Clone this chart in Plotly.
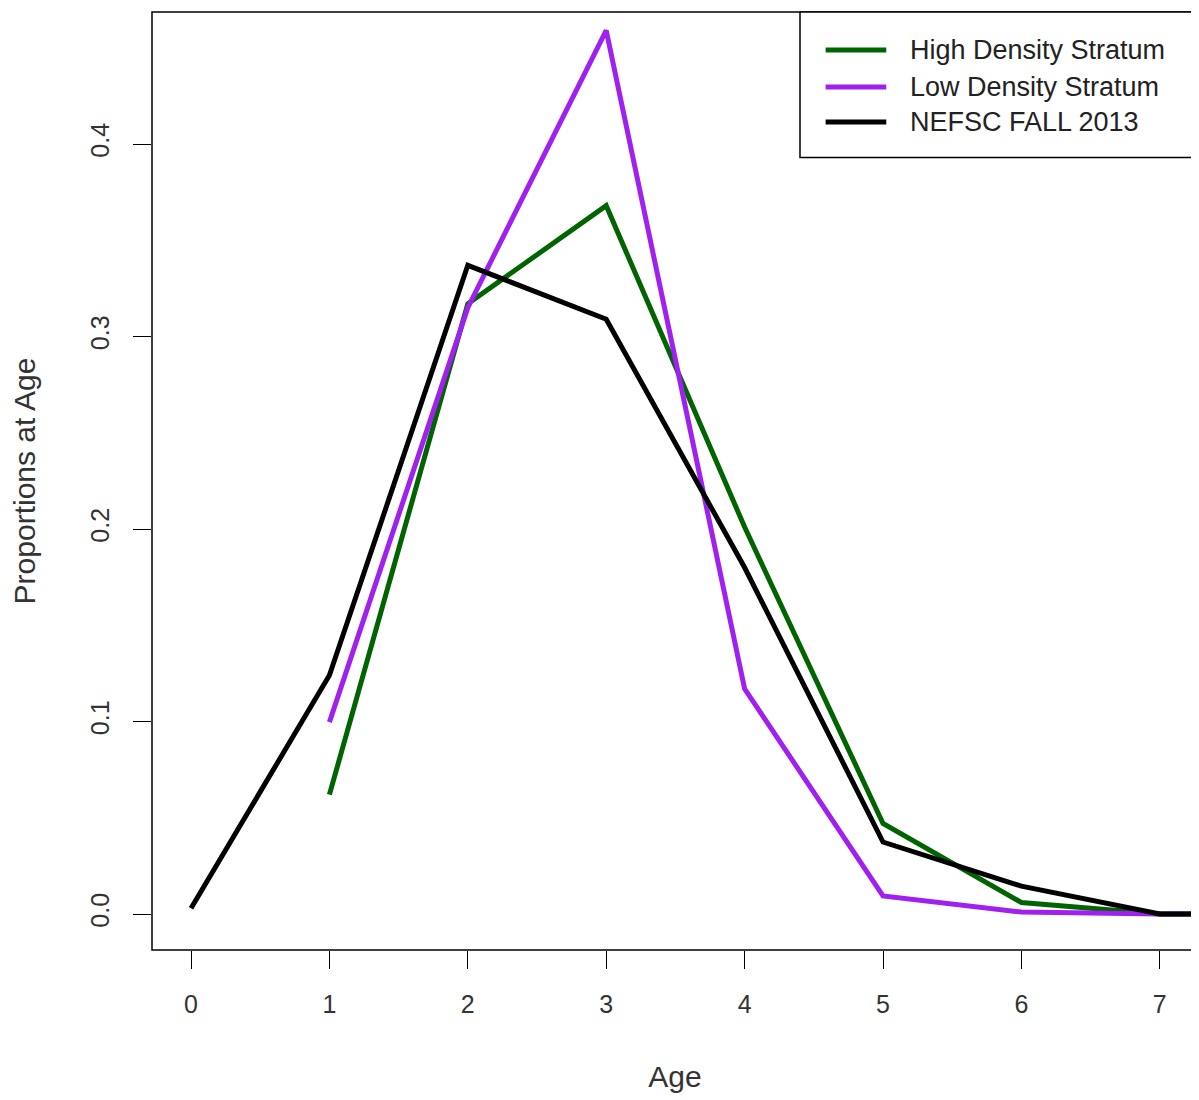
import plotly.graph_objects as go

ages = [0, 1, 2, 3, 4, 5, 6, 7, 8]
high_ages = [1, 2, 3, 4, 5, 6, 7, 8]
high_density = [0.062, 0.317, 0.368, 0.201, 0.047, 0.006, 0.0, 0.0]
low_ages = [1, 2, 3, 4, 5, 6, 7, 8]
low_density = [0.0997, 0.315, 0.459, 0.117, 0.0094, 0.001, 0.0, 0.0]
nefsc = [0.003, 0.124, 0.337, 0.309, 0.180, 0.0374, 0.0145, 0.0, 0.0]

x_ticks = [0, 1, 2, 3, 4, 5, 6, 7]
y_ticks = [0.0, 0.1, 0.2, 0.3, 0.4]
y_labels = ["0.0", "0.1", "0.2", "0.3", "0.4"]

series = [
    ("High Density Stratum", high_ages, high_density, "#006400"),
    ("Low Density Stratum", low_ages, low_density, "#a020f0"),
    ("NEFSC FALL 2013", ages, nefsc, "black"),
]

font = dict(family="Liberation Sans, Arial, sans-serif", size=25, color="#333333")

fig = go.Figure()
shapes = [dict(type="rect", xref="paper", yref="paper", x0=0, y0=0, x1=1, y1=1,
               line=dict(color="black", width=1.5))]
annotations = []

# hand-drawn legend box, like R's legend()
shapes.append(dict(type="rect", xref="paper", yref="paper", x0=0.6195, y0=0.845, x1=1, y1=1,
                   line=dict(color="black", width=1.5), fillcolor="white", layer="above"))
rows = [0.9595, 0.920, 0.8827]
for (name, xs, ys, color), yr in zip(series, rows):
    fig.add_trace(go.Scatter(x=xs, y=ys, mode="lines", name=name,
                             line=dict(color=color, width=5), showlegend=False))
    shapes.append(dict(type="line", xref="paper", yref="paper", x0=0.644, x1=0.702, y0=yr, y1=yr,
                       line=dict(color=color, width=5), layer="above"))
    annotations.append(dict(text=name, xref="paper", yref="paper", x=0.7228, y=yr,
                            xanchor="left", yanchor="middle", showarrow=False,
                            font=dict(family=font["family"], size=27, color="#222")))

fig.update_layout(
    width=1191, height=1092,
    paper_bgcolor="white", plot_bgcolor="white",
    margin=dict(l=144, r=1, t=4, b=150),
    font=font,
    showlegend=False,
    xaxis=dict(range=[-0.282, 7.276], tickvals=x_ticks, ticks="outside", ticklen=18,
               tickcolor="black", showgrid=False, zeroline=False, showline=False,
               ticklabelstandoff=14,
               title=dict(text="Age", standoff=48), tickfont=font),
    yaxis=dict(range=[-0.0187, 0.4686], tickvals=y_ticks, ticktext=y_labels, ticks="outside",
               ticklen=18, tickcolor="black", tickangle=-90, showgrid=False, zeroline=False,
               showline=False, ticklabelstandoff=14,
               title=dict(text="Proportions at Age", standoff=46), tickfont=font),
    shapes=shapes,
    annotations=annotations,
)

fig.write_html("out.html")
